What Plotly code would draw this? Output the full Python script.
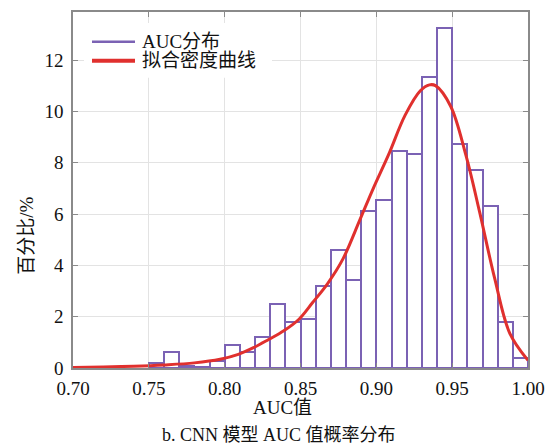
import plotly.graph_objects as go

# ---- data ----
bin_centers = [0.755, 0.765, 0.775, 0.785, 0.795, 0.805, 0.815, 0.825, 0.835, 0.845,
               0.855, 0.865, 0.875, 0.885, 0.895, 0.905, 0.915, 0.925, 0.935, 0.945,
               0.955, 0.965, 0.975, 0.985, 0.995]
bin_pct = [0.2, 0.61, 0.08, 0.02, 0.28, 0.89, 0.61, 1.19, 2.5, 1.79,
           1.89, 3.2, 4.6, 3.42, 6.12, 6.53, 8.44, 8.34, 11.34, 13.25,
           8.72, 7.73, 6.31, 1.79, 0.38]
bin_width = 0.01

fit_x = [0.700, 0.720, 0.740, 0.760, 0.780, 0.797, 0.809, 0.819, 0.829, 0.839,
         0.849, 0.858, 0.868, 0.878, 0.889, 0.898, 0.908, 0.919, 0.929, 0.935,
         0.939, 0.949, 0.959, 0.968, 0.978, 0.988, 1.000]
fit_y = [0.02, 0.04, 0.07, 0.12, 0.2, 0.34, 0.53, 0.79, 1.11, 1.45,
         1.9, 2.55, 3.3, 4.25, 5.75, 7.0, 8.3, 9.85, 10.8, 11.03,
         11.0, 10.2, 8.3, 6.1, 3.5, 1.35, 0.3]

x_ticks = [0.70, 0.75, 0.80, 0.85, 0.90, 0.95, 1.00]
x_tick_text = ["0.70", "0.75", "0.80", "0.85", "0.90", "0.95", "1.00"]
y_ticks = [0, 2, 4, 6, 8, 10, 12]

name_hist = "AUC分布"
name_fit = "拟合密度曲线"
x_title = "AUC值"
y_title = "百分比/%"
caption = "b. CNN 模型 AUC 值概率分布"

PURPLE = "#7b62b4"
RED = "#e0302e"
FONT = "Liberation Serif, Noto Sans CJK SC, serif"

# plot-area geometry in pixels (for placing the legend box)
L, R, T, B = 73, 28, 10, 79
W, H = 556, 447
PW, PH = W - L - R, H - T - B


def px(x):
    return (x - L) / PW


def py(y):
    return (H - B - y) / PH


fig = go.Figure()
fig.add_trace(go.Bar(
    x=bin_centers, y=bin_pct, width=[bin_width] * len(bin_centers),
    marker=dict(color="white", line=dict(color=PURPLE, width=2)),
    showlegend=False, name=name_hist,
))
fig.add_trace(go.Scatter(x=fit_x, y=fit_y, mode="lines", name=name_fit, showlegend=False,
                         line=dict(color=RED, width=3, shape="spline", smoothing=1.0)))

axis_common = dict(
    showgrid=True, gridcolor="#e3e3e3", gridwidth=1,
    showline=True, linecolor="#8a8a8a", linewidth=1.5, mirror="ticks",
    ticks="inside", ticklen=5, tickcolor="#8a8a8a", tickwidth=1,
    zeroline=False, tickfont=dict(family=FONT, size=19, color="#111"),
)

# legend (box, line samples, labels)
legend_items = [(name_hist, PURPLE, 2.5, 40), (name_fit, RED, 4, 59)]
shapes = [dict(type="rect", xref="paper", yref="paper", layer="above",
               x0=px(84), x1=px(272), y0=py(76), y1=py(21),
               fillcolor="white", line=dict(width=0))]
annotations = []
for label, color, lw, yy in legend_items:
    shapes.append(dict(type="line", xref="paper", yref="paper", layer="above",
                       x0=px(92), x1=px(135), y0=py(yy), y1=py(yy),
                       line=dict(color=color, width=lw)))
    annotations.append(dict(text=label, xref="paper", yref="paper", x=px(140), y=py(yy),
                            xanchor="left", yanchor="middle", showarrow=False,
                            font=dict(family=FONT, size=19, color="#111")))

annotations += [
    dict(text=x_title, xref="paper", yref="paper", x=0.4615, y=0, yshift=-39,
         xanchor="center", yanchor="middle", showarrow=False,
         font=dict(family=FONT, size=19, color="#111")),
    dict(text=caption, xref="paper", yref="paper", x=0.453, y=0, yshift=-67,
         xanchor="center", yanchor="middle", showarrow=False,
         font=dict(family=FONT, size=18, color="#111")),
    dict(text=y_title, xref="paper", yref="paper", x=0, xshift=-46, y=0.3715,
         xanchor="center", yanchor="middle", showarrow=False, textangle=-90,
         font=dict(family=FONT, size=19, color="#111")),
]

fig.update_layout(
    width=W, height=H,
    margin=dict(l=L, r=R, t=T, b=B),
    paper_bgcolor="white", plot_bgcolor="white",
    font=dict(family=FONT, size=19, color="#111"),
    bargap=0, showlegend=False,
    xaxis=dict(range=[0.70, 1.00], tickvals=x_ticks, ticktext=x_tick_text,
               ticklabelstandoff=2, **axis_common),
    yaxis=dict(range=[0, 13.87], tickvals=y_ticks, ticklabelstandoff=4, **axis_common),
    shapes=shapes,
    annotations=annotations,
)

fig.write_html("out.html")
